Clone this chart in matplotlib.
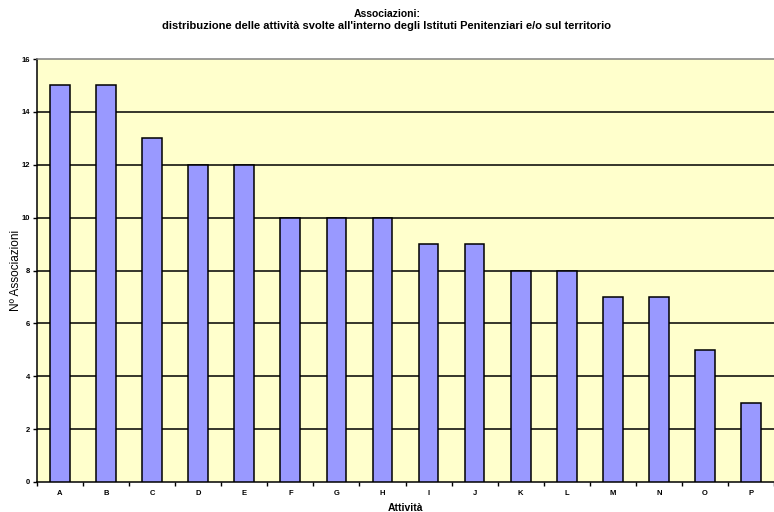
import matplotlib
matplotlib.use("Agg")
import matplotlib.pyplot as plt
import numpy as np

categories = ["A", "B", "C", "D", "E", "F", "G", "H", "I", "J", "K", "L", "M", "N", "O", "P"]
values = [15, 15, 13, 12, 12, 10, 10, 10, 9, 9, 8, 8, 7, 7, 5, 3]
yticks = [0, 2, 4, 6, 8, 10, 12, 14, 16]

plt.rcParams['font.family'] = ['Liberation Sans', 'DejaVu Sans']

fig = plt.figure(figsize=(7.74, 5.12), dpi=100)
ax = fig.add_axes([37/774, 30/512, 1 - 37/774, (482-59)/512])
ax.set_facecolor("#FFFFCC")

x = np.arange(len(categories))
ax.bar(x, values, width=0.43, color="#9999FF", edgecolor="black", linewidth=1.1, zorder=3)

ax.set_xlim(-0.5, len(categories) - 0.5)
ax.set_ylim(0, 16)
ax.set_yticks(yticks)
ax.set_yticklabels([str(v) for v in yticks], fontsize=5.5, fontweight='bold')
for yv in yticks[1:-1]:
    ax.axhline(yv, color="black", linewidth=1.1, zorder=1)

ax.set_xticks(x)
ax.set_xticklabels(categories, fontsize=5.5, fontweight='bold')
ax.set_xticks(np.arange(-0.5, len(categories), 1), minor=True)
ax.tick_params(axis='x', which='major', length=0, pad=6)
ax.tick_params(axis='x', which='minor', length=3, width=1, direction='out')
ax.tick_params(axis='y', length=3, width=1, direction='out', pad=2)

for s in ['left', 'bottom']:
    ax.spines[s].set_color('black')
    ax.spines[s].set_linewidth(1.1)
ax.spines['top'].set_color('#808080')
ax.spines['top'].set_linewidth(1.1)
ax.spines['right'].set_visible(False)

ax.set_ylabel("Nº Associazioni", fontsize=8.5)
ax.yaxis.set_label_coords(-0.021, 0.5)
ax.set_xlabel("Attività", fontsize=7.5, fontweight='bold', labelpad=4)

fig.text(0.5, 1 - 14/512, "Associazioni:", ha='center', va='center', fontsize=7.5, fontweight='bold')
fig.text(0.5, 1 - 26/512, "distribuzione delle attività svolte all'interno degli Istituti Penitenziari e/o sul territorio",
         ha='center', va='center', fontsize=8, fontweight='bold')

fig.savefig("out.png", dpi=100)
